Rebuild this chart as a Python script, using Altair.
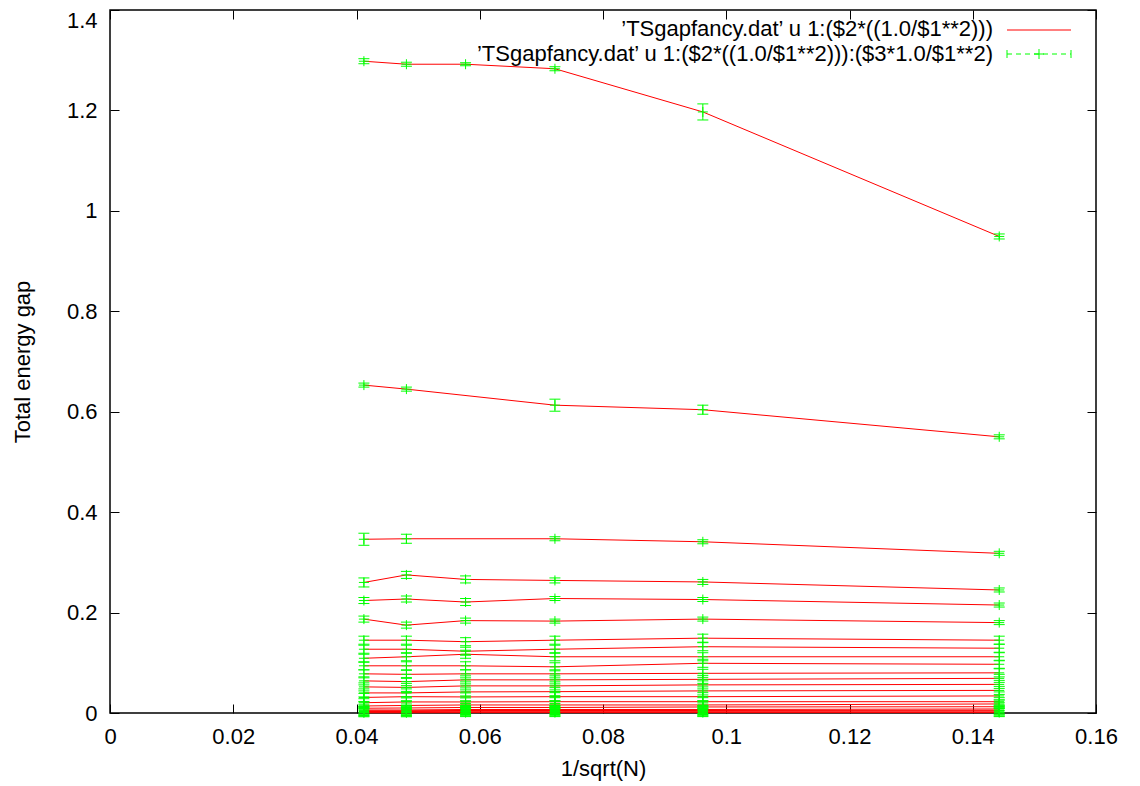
import altair as alt
import pandas as pd

# ---------------- data ----------------
X_VALUES = [0.0412, 0.0481, 0.0577, 0.0722, 0.0962, 0.1443]

gap_1 = [1.298, 1.292, 1.292, 1.283, 1.197, 0.949]
gap_2 = [0.653, 0.645, None, 0.613, 0.604, 0.550]
gap_3 = [0.346, 0.347, None, 0.347, 0.341, 0.318]
gap_4 = [0.260, 0.275, 0.266, 0.264, 0.261, 0.245]
gap_5 = [0.224, 0.227, 0.221, 0.228, 0.226, 0.215]
gap_6 = [0.187, 0.175, 0.184, 0.183, 0.187, 0.180]
gap_7 = [0.145, 0.145, 0.142, 0.145, 0.149, 0.145]
gap_8 = [0.127, 0.127, 0.123, 0.127, 0.132, 0.129]
gap_9 = [0.109, 0.112, 0.117, 0.112, 0.112, 0.112]
gap_10 = [0.094, 0.094, 0.094, 0.092, 0.099, 0.097]
gap_11 = [0.078, 0.077, 0.078, 0.078, 0.079, 0.080]
gap_12 = [0.064, 0.0625, 0.066, 0.066, 0.067, 0.069]
gap_13 = [0.052, 0.051, 0.054, 0.054, 0.056, 0.057]
gap_14 = [0.040, 0.040, 0.042, 0.0425, 0.044, 0.045]
gap_15 = [0.031, 0.0325, 0.032, 0.0325, 0.0325, 0.034]
gap_16 = [0.0205, 0.022, 0.022, 0.0225, 0.0225, 0.0225]
gap_17 = [0.014, 0.015, 0.016, 0.016, 0.016, 0.018]
gap_18 = [0.0095, 0.010, 0.011, 0.011, 0.012, 0.0125]
gap_19 = [0.006, 0.006, 0.007, 0.007, 0.007, 0.008]
gap_20 = [0.0045, 0.0045, 0.005, 0.005, 0.005, 0.0055]
gap_21 = [0.003, 0.003, 0.0035, 0.0035, 0.0035, 0.004]
gap_22 = [0.0015, 0.0015, 0.002, 0.002, 0.002, 0.002]
gap_23 = [0.0005, 0.0005, 0.0008, 0.0008, 0.0008, 0.0008]

err_1 = [0.005, 0.004, 0.003, 0.004, 0.016, 0.005]
err_2 = [0.004, 0.004, None, 0.012, 0.009, 0.004]
err_3 = [0.012, 0.009, None, 0.004, 0.004, 0.004]
err_4 = [0.009, 0.007, 0.007, 0.005, 0.005, 0.004]
err_5 = [0.006, 0.006, 0.007, 0.004, 0.004, 0.004]
err_6 = [0.006, 0.006, 0.005, 0.004, 0.004, 0.004]
err_low = [0.008, 0.008, 0.008, 0.008, 0.008, 0.008]

GAPS = [gap_1, gap_2, gap_3, gap_4, gap_5, gap_6, gap_7, gap_8, gap_9, gap_10,
        gap_11, gap_12, gap_13, gap_14, gap_15, gap_16, gap_17, gap_18, gap_19,
        gap_20, gap_21, gap_22, gap_23]
ERRS = [err_1, err_2, err_3, err_4, err_5, err_6] + [err_low] * 17

X_TICKS = [0, 0.02, 0.04, 0.06, 0.08, 0.1, 0.12, 0.14, 0.16]
Y_TICKS = [0, 0.2, 0.4, 0.6, 0.8, 1.0, 1.2, 1.4]

X_TITLE = "1/sqrt(N)"
Y_TITLE = "Total energy gap"
LEGEND_LABELS = [
    "\u2019TSgapfancy.dat\u2019 u 1:($2*((1.0/$1**2)))",
    "\u2019TSgapfancy.dat\u2019 u 1:($2*((1.0/$1**2))):($3*1.0/$1**2)",
]

# ---------------- build table ----------------
rows = []
for s, (gs, es) in enumerate(zip(GAPS, ERRS)):
    for xv, g, e in zip(X_VALUES, gs, es):
        if g is None:
            continue
        rows.append({"series": s, "x": xv, "y": g, "lo": g - e, "hi": g + e})
df = pd.DataFrame(rows)
dummy = pd.DataFrame({"k": [0]})

W, H = 986, 703
FONT = "Liberation Sans"
FS = 22
RED = "#ff0000"
GREEN = "#00ff00"

xs = alt.Scale(domain=[0, 0.16], nice=False, zero=False)
ys = alt.Scale(domain=[0, 1.4], nice=False, zero=False)

ax_bottom = alt.Axis(orient="bottom", values=X_TICKS, format="~g", ticks=False, tickSize=0,
                     domain=False, grid=False, labelFont=FONT, labelFontSize=FS,
                     labelColor="black", labelPadding=23, labelBaseline="middle",
                     labelFlush=False, labelOverlap=False, labelBound=False,
                     title=X_TITLE, titleFont=FONT, titleFontSize=FS,
                     titleFontWeight="normal", titleColor="black", titleY=55,
                     titleBaseline="middle")
ax_left = alt.Axis(orient="left", values=Y_TICKS, format="~g", ticks=False, tickSize=0,
                   domain=False, grid=False, labelFont=FONT, labelFontSize=FS,
                   labelColor="black", labelPadding=13,
                   labelBaseline={"condition": {"test": "datum.value >= 1.39", "value": "top"},
                                  "value": "middle"},
                   labelFlush=False, labelOverlap=False, labelBound=False,
                   title=Y_TITLE, titleFont=FONT, titleFontSize=FS,
                   titleFontWeight="normal", titleColor="black", titleX=-88,
                   titleY=H / 2, titleBaseline="middle", titleAlign="center")


def tick_axis(orient, values, offset):
    return alt.Axis(orient=orient, values=values, offset=offset, labels=False, ticks=True,
                    tickSize=9, tickColor="black", tickWidth=1, domain=False, grid=False,
                    title=None)


ax_in_bottom = tick_axis("top", X_TICKS, -H)      # ticks on bottom edge pointing up
ax_in_top = tick_axis("bottom", X_TICKS, -H)      # ticks on top edge pointing down
ax_in_left = tick_axis("right", Y_TICKS, -W)      # ticks on left edge pointing right
ax_in_right = tick_axis("left", Y_TICKS, -W)      # ticks on right edge pointing left

lines = alt.Chart(df).mark_line(color=RED, strokeWidth=1).encode(
    x=alt.X("x:Q", scale=xs, axis=ax_bottom),
    y=alt.Y("y:Q", scale=ys, axis=ax_left),
    detail="series:N",
    order="x:Q",
)

errbars = alt.Chart(df).mark_rule(color=GREEN, strokeWidth=1).encode(
    x=alt.X("x:Q", scale=xs, axis=ax_in_bottom),
    y=alt.Y("lo:Q", scale=ys, axis=ax_in_left),
    y2="hi:Q",
)

cap_style = dict(shape="M-1,0L1,0", size=121, color=GREEN, filled=False,
                 strokeWidth=1, opacity=1)
caps_lo = alt.Chart(df).mark_point(**cap_style).encode(
    x=alt.X("x:Q", scale=xs, axis=ax_in_top),
    y=alt.Y("lo:Q", scale=ys, axis=ax_in_right),
)
caps_hi = alt.Chart(df).mark_point(**cap_style).encode(
    x=alt.X("x:Q", scale=xs, axis=None),
    y=alt.Y("hi:Q", scale=ys, axis=None),
)
plus = alt.Chart(df).mark_point(shape="M-1,0L1,0M0,-1L0,1", size=100, color=GREEN,
                                filled=False, strokeWidth=1, opacity=1).encode(
    x=alt.X("x:Q", scale=xs, axis=None),
    y=alt.Y("y:Q", scale=ys, axis=None),
)

# ---------------- legend (key in the top right corner) ----------------
LX_TEXT, LX0, LX1, LXM = 883, 897, 961, 929
LY1, LY2 = 19, 44
leg_text1 = alt.Chart(dummy).mark_text(text=LEGEND_LABELS[0], align="right", baseline="middle",
                                       font=FONT, fontSize=FS, color="black").encode(
    x=alt.value(LX_TEXT), y=alt.value(LY1))
leg_text2 = alt.Chart(dummy).mark_text(text=LEGEND_LABELS[1], align="right", baseline="middle",
                                       font=FONT, fontSize=FS, color="black").encode(
    x=alt.value(LX_TEXT), y=alt.value(LY2))
leg_line1 = alt.Chart(dummy).mark_rule(color=RED, strokeWidth=1).encode(
    x=alt.value(LX0), x2=alt.value(LX1), y=alt.value(LY1 + 1))
leg_line2 = alt.Chart(dummy).mark_rule(color=GREEN, strokeWidth=1, strokeDash=[5, 4]).encode(
    x=alt.value(LX0), x2=alt.value(LX1), y=alt.value(LY2))
leg_capL = alt.Chart(dummy).mark_rule(color=GREEN, strokeWidth=1).encode(
    x=alt.value(LX0), y=alt.value(LY2 - 4), y2=alt.value(LY2 + 4))
leg_capR = alt.Chart(dummy).mark_rule(color=GREEN, strokeWidth=1).encode(
    x=alt.value(LX1), y=alt.value(LY2 - 4), y2=alt.value(LY2 + 4))
leg_plusV = alt.Chart(dummy).mark_rule(color=GREEN, strokeWidth=1).encode(
    x=alt.value(LXM), y=alt.value(LY2 - 5), y2=alt.value(LY2 + 5))
leg_plusH = alt.Chart(dummy).mark_rule(color=GREEN, strokeWidth=1).encode(
    x=alt.value(LXM - 5), x2=alt.value(LXM + 5), y=alt.value(LY2))

chart = alt.layer(
    lines, errbars, caps_lo, caps_hi, plus,
    leg_text1, leg_line1, leg_text2, leg_line2, leg_capL, leg_capR, leg_plusV, leg_plusH,
).resolve_axis(x="independent", y="independent").properties(
    width=W, height=H,
    autosize=alt.AutoSizeParams(type="none"),
    padding={"left": 102, "top": 2, "right": 30, "bottom": 72},
    background="white",
).configure_view(stroke="black", strokeWidth=1.5)

chart.save("out.html", embed_options={"renderer": "svg", "actions": False})
